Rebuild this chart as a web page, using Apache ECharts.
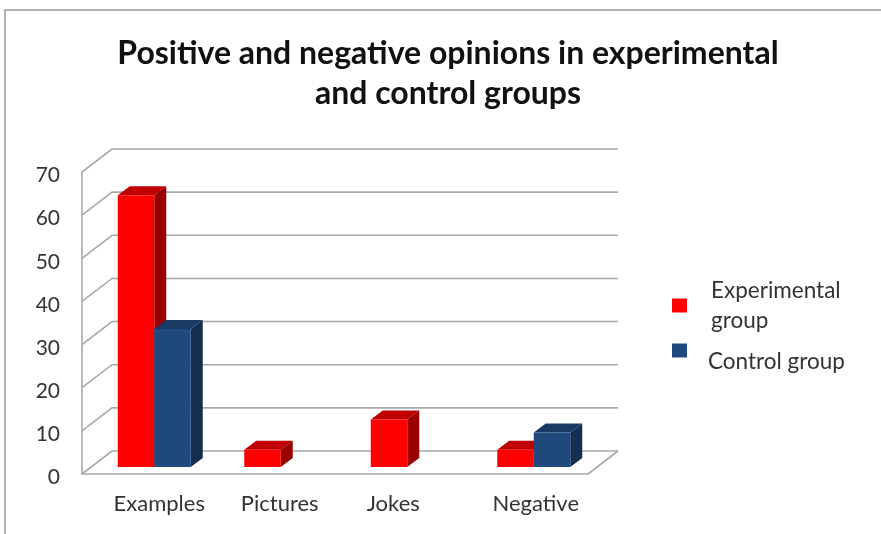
<!DOCTYPE html>
<html>
<head>
<meta charset="utf-8">
<style>html,body{margin:0;padding:0;background:#fff}#c{width:881px;height:534px}</style>
<script src="https://cdn.jsdelivr.net/npm/echarts@6/dist/echarts.min.js"></script>
</head>
<body>
<div id="c"></div>
<script>
const categories = ['Examples', 'Pictures', 'Jokes', 'Negative'];
const experimental = [63, 4, 11, 4];
const control = [32, 0, 0, 8];
const valueTicks = [0, 10, 20, 30, 40, 50, 60, 70];

// Per-label horizontal nudge of the category captions, in px.
const labelShift = [14, 8, -5, 11];

// Pseudo-3D projection settings, in px.
const WALL_DX = 30, WALL_DY = -23;   // depth of the chart floor
const GAP_DX = 9, GAP_DY = -7;       // bars stand this far behind the front edge
const BAR_DX = 12, BAR_DY = -9;      // depth of a bar
const BAR_RATIO = 0.2885;            // bar width as a share of the category band

const GRID_COLOR = '#a9a9a9';
const TEXT_COLOR = '#333';
const FONT = 'Lato';

function poly(points, fill) {
  return { type: 'polygon', shape: { points }, style: { fill, stroke: null }, silent: true };
}

// slot -1 draws left of the group centre, slot 0 draws right of it
function barRenderer(slot, front, top, side) {
  return function (params, api) {
    const value = api.value(1);
    if (!value) return null;
    const band = api.size([1, 0])[0];
    const w = band * BAR_RATIO;
    const base = api.coord([api.value(0), 0]);
    const head = api.coord([api.value(0), value]);
    const x0 = base[0] + GAP_DX + slot * w;
    const x1 = x0 + w;
    const yB = base[1] + GAP_DY;
    const yT = head[1] + GAP_DY;
    return {
      type: 'group',
      children: [
        poly([[x1, yT], [x1 + BAR_DX, yT + BAR_DY], [x1 + BAR_DX, yB + BAR_DY], [x1, yB]], side),
        poly([[x0, yT], [x0 + BAR_DX, yT + BAR_DY], [x1 + BAR_DX, yT + BAR_DY], [x1, yT]], top),
        poly([[x0, yT], [x1, yT], [x1, yB], [x0, yB]], front)
      ]
    };
  };
}

// One slanted side-wall segment plus one back-wall line for each tick.
function wallRenderer(params, api) {
  const cs = params.coordSys;
  const y = api.coord([0, api.value(1)])[1];
  const xL = cs.x;
  const xB = xL + WALL_DX;
  const yB = y + WALL_DY;
  const children = [{
    type: 'polyline',
    shape: { points: [[xL, y], [xB, yB], [xB + cs.width, yB]] },
    style: { stroke: GRID_COLOR, lineWidth: 1.6, fill: null },
    silent: true
  }];
  if (api.value(1) === 0) {
    children.push({
      type: 'line',
      shape: { x1: xL + cs.width, y1: y, x2: xB + cs.width, y2: yB },
      style: { stroke: GRID_COLOR, lineWidth: 1.6 },
      silent: true
    });
  }
  return { type: 'group', children };
}

const chart = echarts.init(document.getElementById('c'), null, { renderer: 'canvas' });

chart.setOption({
  animation: false,
  backgroundColor: '#fff',
  title: {
    text: 'Positive and negative opinions in experimental\nand control groups',
    left: 443,
    top: 29,
    textAlign: 'center',
    textStyle: { fontFamily: FONT, fontSize: 32, fontWeight: 'bold', color: '#111', lineHeight: 40 }
  },
  legend: [
    {
      data: ['Experimental group'],
      left: 667, top: 274, orient: 'vertical',
      icon: 'rect', itemWidth: 15, itemHeight: 14,
      selectedMode: false,
      formatter: () => '{a|Experimental}\n{a|group}',
      textStyle: { rich: { a: { fontFamily: FONT, fontSize: 22.5, color: TEXT_COLOR, lineHeight: 30, padding: [0, 0, 0, 19] } } }
    },
    {
      data: ['Control group'],
      left: 667, top: 323, orient: 'vertical',
      icon: 'rect', itemWidth: 15, itemHeight: 14,
      selectedMode: false,
      formatter: () => '{a|Control group}',
      textStyle: { rich: { a: { fontFamily: FONT, fontSize: 22.5, color: TEXT_COLOR, lineHeight: 30, padding: [22, 0, 0, 16] } } }
    }
  ],
  grid: { left: 82, top: 172, width: 506, height: 302 },
  xAxis: {
    type: 'category',
    data: categories.map((c, i) => ({
      value: c,
      textStyle: { padding: labelShift[i] > 0 ? [0, 0, 0, labelShift[i] * 2] : [0, -labelShift[i] * 2, 0, 0] }
    })),
    axisTick: { show: false },
    axisLine: { lineStyle: { color: GRID_COLOR, width: 1.6 } },
    axisLabel: { interval: 0, margin: 19, fontFamily: FONT, fontSize: 22, color: TEXT_COLOR },
    splitLine: { show: false }
  },
  yAxis: {
    type: 'value',
    min: 0,
    max: 70,
    interval: 10,
    axisTick: { show: false },
    axisLine: { show: true, lineStyle: { color: GRID_COLOR, width: 1.6 } },
    axisLabel: {
      margin: 22,
      formatter: '{a|{value}}',
      rich: { a: { fontFamily: FONT, fontSize: 21, color: TEXT_COLOR, padding: [7, 0, 0, 0] } }
    },
    splitLine: { show: false }
  },
  graphic: [
    // Thin frame along the top and left of the figure
    { type: 'polyline', silent: true, z: -1,
      shape: { points: [[5, 534], [5, 10], [881, 10]] },
      style: { stroke: '#9a9a9a', lineWidth: 1.5, fill: null } }
  ],
  series: [
    {
      type: 'custom',
      name: 'walls',
      z: 1,
      clip: false,
      silent: true,
      renderItem: wallRenderer,
      data: valueTicks.map(v => [0, v])
    },
    {
      type: 'custom',
      name: 'Experimental group',
      z: 2,
      clip: false,
      itemStyle: { color: '#ff0000' },
      renderItem: barRenderer(-1, '#ff0000', '#c00000', '#990000'),
      data: experimental.map((v, i) => [i, v])
    },
    {
      type: 'custom',
      name: 'Control group',
      z: 3,
      clip: false,
      itemStyle: { color: '#1f497d' },
      renderItem: barRenderer(0, '#1f497d', '#193a64', '#152e50'),
      data: control.map((v, i) => [i, v])
    }
  ]
});
</script>
</body>
</html>
